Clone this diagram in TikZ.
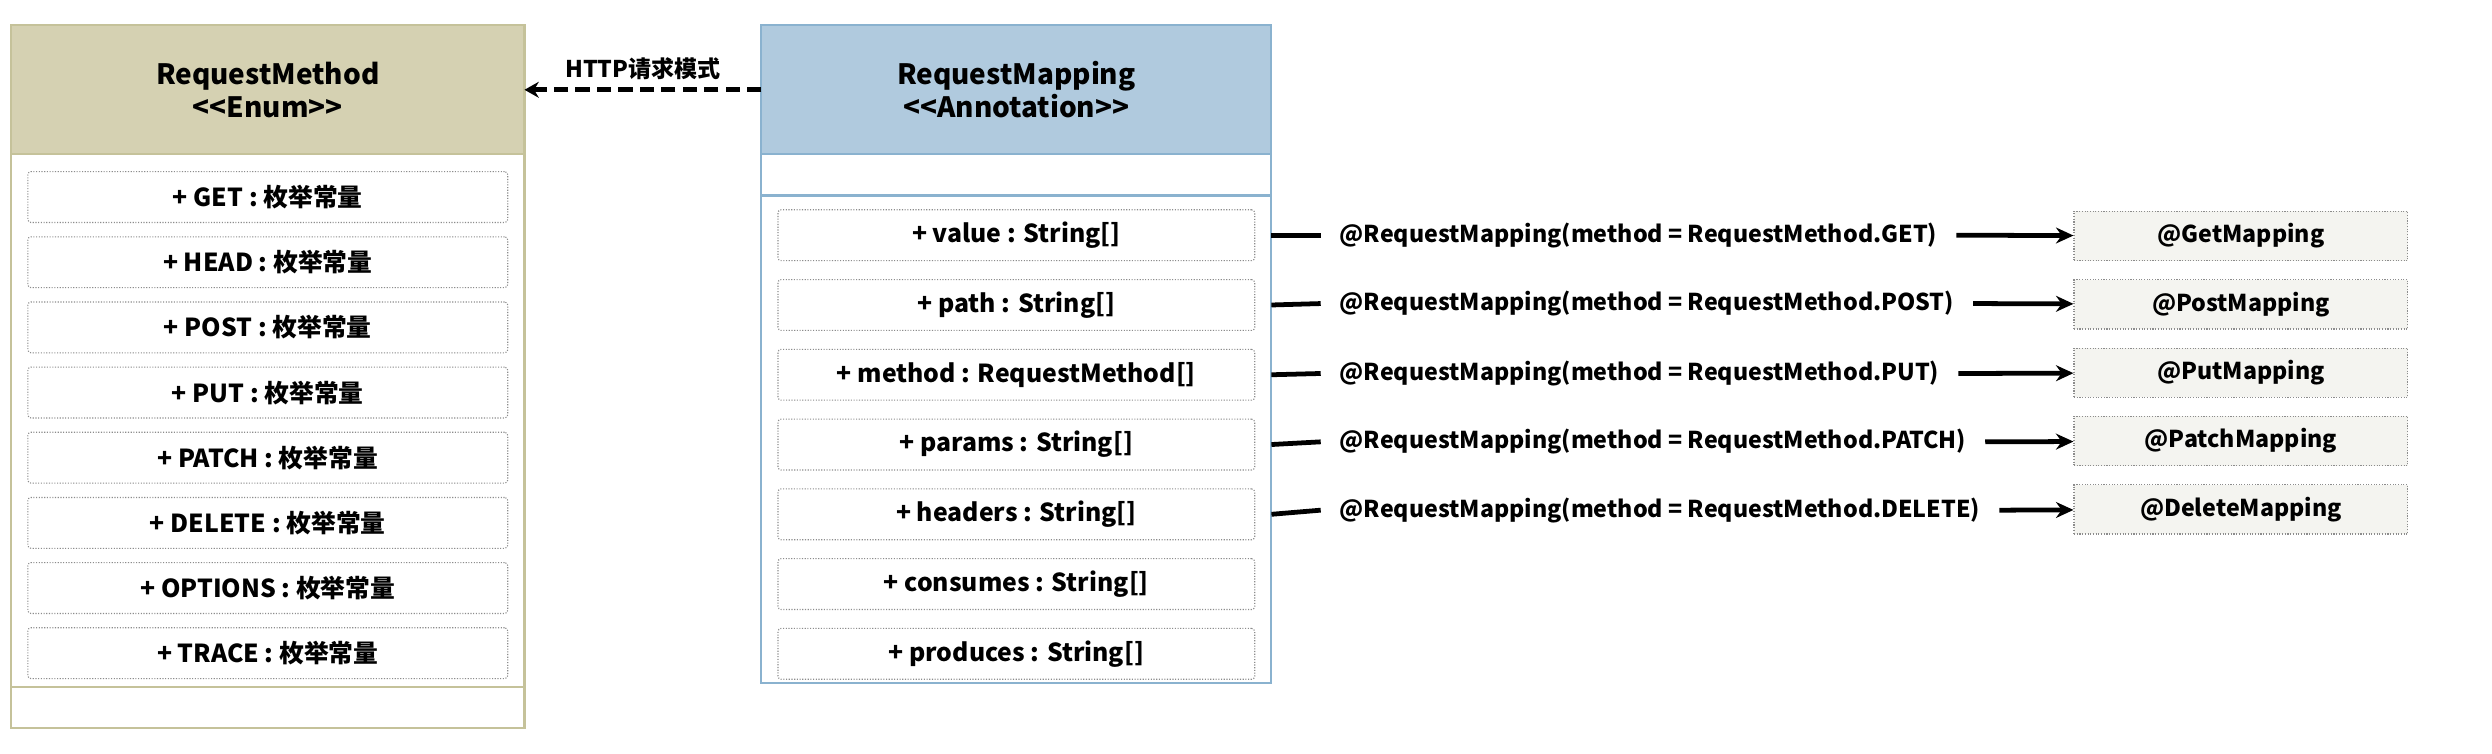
\documentclass[tikz,border=0pt]{standalone}
\usepackage{fontspec}
\setmainfont{Noto Sans CJK SC}
\usetikzlibrary{positioning,arrows.meta}

\definecolor{enumfill}{RGB}{213,209,178}
\definecolor{enumline}{RGB}{197,194,154}
\definecolor{annofill}{RGB}{176,202,222}
\definecolor{annoline}{RGB}{138,178,207}
\definecolor{itemline}{RGB}{140,140,140}
\definecolor{mapfill}{RGB}{244,244,240}

\tikzset{
  classhead/.style={draw, line width=1.3pt, outer sep=0pt, align=center,
    minimum height=81pt, font=\bfseries\fontsize{17.6}{21}\selectfont},
  classpart/.style={draw, line width=1.3pt, outer sep=0pt, fill=white},
  attr/.style={draw=itemline, densely dotted, line width=0.7pt,
    rounded corners=2pt, minimum height=32pt, inner sep=0pt,
    font=\bfseries\fontsize{15.6}{18}\selectfont},
  maplabel/.style={inner sep=0pt, outer xsep=12pt,
    font=\bfseries\fontsize{14.6}{17}\selectfont},
  mapbox/.style={draw=itemline, densely dotted, line width=0.7pt, fill=mapfill,
    minimum width=210pt, minimum height=31pt, inner sep=0pt,
    font=\bfseries\fontsize{14.6}{17}\selectfont},
  link/.style={line width=3pt},
  maparrow/.style={line width=3pt, -{Stealth[length=11pt,width=10pt]}},
  depend/.style={line width=3pt, dash pattern=on 9pt off 4.5pt,
    -{Stealth[length=9pt,width=10pt]}}
}

\begin{document}
\begin{tikzpicture}[x=1pt,y=-1pt]
  \useasboundingbox (0,0) rectangle (1568,474.4);

  % enum class
  \node[classhead, draw=enumline, fill=enumfill, minimum width=323pt]
    (enum) at (168.5,56.5) {RequestMethod\\<{}<Enum>{}>};
  \node[classpart, draw=enumline, minimum width=323pt, minimum height=335pt,
    below=0pt of enum] (enumattr) {};
  \node[classpart, draw=enumline, minimum width=323pt, minimum height=26pt,
    below=0pt of enumattr] (enumops) {};

  \node[attr, minimum width=302pt] (get) at (168.5,124) {+ GET : 枚举常量};
  \node[attr, minimum width=302pt, below=8.3pt of get] (head) {+ HEAD : 枚举常量};
  \node[attr, minimum width=302pt, below=8.3pt of head] (post) {+ POST : 枚举常量};
  \node[attr, minimum width=302pt, below=8.3pt of post] (put) {+ PUT : 枚举常量};
  \node[attr, minimum width=302pt, below=8.3pt of put] (patch) {+ PATCH : 枚举常量};
  \node[attr, minimum width=302pt, below=8.3pt of patch] (delete) {+ DELETE : 枚举常量};
  \node[attr, minimum width=302pt, below=8.3pt of delete] (options) {+ OPTIONS : 枚举常量};
  \node[attr, minimum width=302pt, below=8.3pt of options] (trace) {+ TRACE : 枚举常量};

  % annotation class
  \node[classhead, draw=annoline, fill=annofill, minimum width=321pt]
    (anno) at (639.5,56.5) {RequestMapping\\<{}<Annotation>{}>};
  \node[classpart, draw=annoline, minimum width=321pt, minimum height=26pt,
    below=0pt of anno] (annoops) {};
  \node[classpart, draw=annoline, minimum width=321pt, minimum height=307pt,
    below=0pt of annoops] (annoattr) {};

  \node[attr, minimum width=300pt] (value) at (639.5,148) {+ value : String[]};
  \node[attr, minimum width=300pt, below=11.2pt of value] (path) {+ path : String[]};
  \node[attr, minimum width=300pt, below=11.2pt of path] (method) {+ method : RequestMethod[]};
  \node[attr, minimum width=300pt, below=11.2pt of method] (params) {+ params : String[]};
  \node[attr, minimum width=300pt, below=11.2pt of params] (headers) {+ headers : String[]};
  \node[attr, minimum width=300pt, below=11.2pt of headers] (consumes) {+ consumes : String[]};
  \node[attr, minimum width=300pt, below=11.2pt of consumes] (produces) {+ produces : String[]};

  \draw[depend] (anno) -- node[above=5pt, inner sep=0pt,
    font=\bfseries\fontsize{14.5}{17}\selectfont] (httplbl) {HTTP请求模式} (enum);

  % shortcut annotations
  \node[maplabel, anchor=west] (lblget) at (831,148) {@RequestMapping(method = RequestMethod.GET)};
  \node[maplabel, anchor=west] (lblpost) at (831,191) {@RequestMapping(method = RequestMethod.POST)};
  \node[maplabel, anchor=west] (lblput) at (831,235) {@RequestMapping(method = RequestMethod.PUT)};
  \node[maplabel, anchor=west] (lblpatch) at (831,278) {@RequestMapping(method = RequestMethod.PATCH)};
  \node[maplabel, anchor=west] (lbldelete) at (831,321) {@RequestMapping(method = RequestMethod.DELETE)};

  \node[mapbox] (getmap) at (1410,148.5) {@GetMapping};
  \node[mapbox] (postmap) at (1410,191.5) {@PostMapping};
  \node[mapbox] (putmap) at (1410,234.5) {@PutMapping};
  \node[mapbox] (patchmap) at (1410,277.5) {@PatchMapping};
  \node[mapbox] (deletemap) at (1410,320.5) {@DeleteMapping};

  \draw[link] (value -| annoattr.east) -- (lblget.west);
  \draw[link] (path -| annoattr.east) -- (lblpost.west);
  \draw[link] (method -| annoattr.east) -- (lblput.west);
  \draw[link] (params -| annoattr.east) -- (lblpatch.west);
  \draw[link] (headers -| annoattr.east) -- (lbldelete.west);

  \draw[maparrow] (lblget.east) -- (getmap);
  \draw[maparrow] (lblpost.east) -- (postmap);
  \draw[maparrow] (lblput.east) -- (putmap);
  \draw[maparrow] (lblpatch.east) -- (patchmap);
  \draw[maparrow] (lbldelete.east) -- (deletemap);
\end{tikzpicture}
\end{document}
